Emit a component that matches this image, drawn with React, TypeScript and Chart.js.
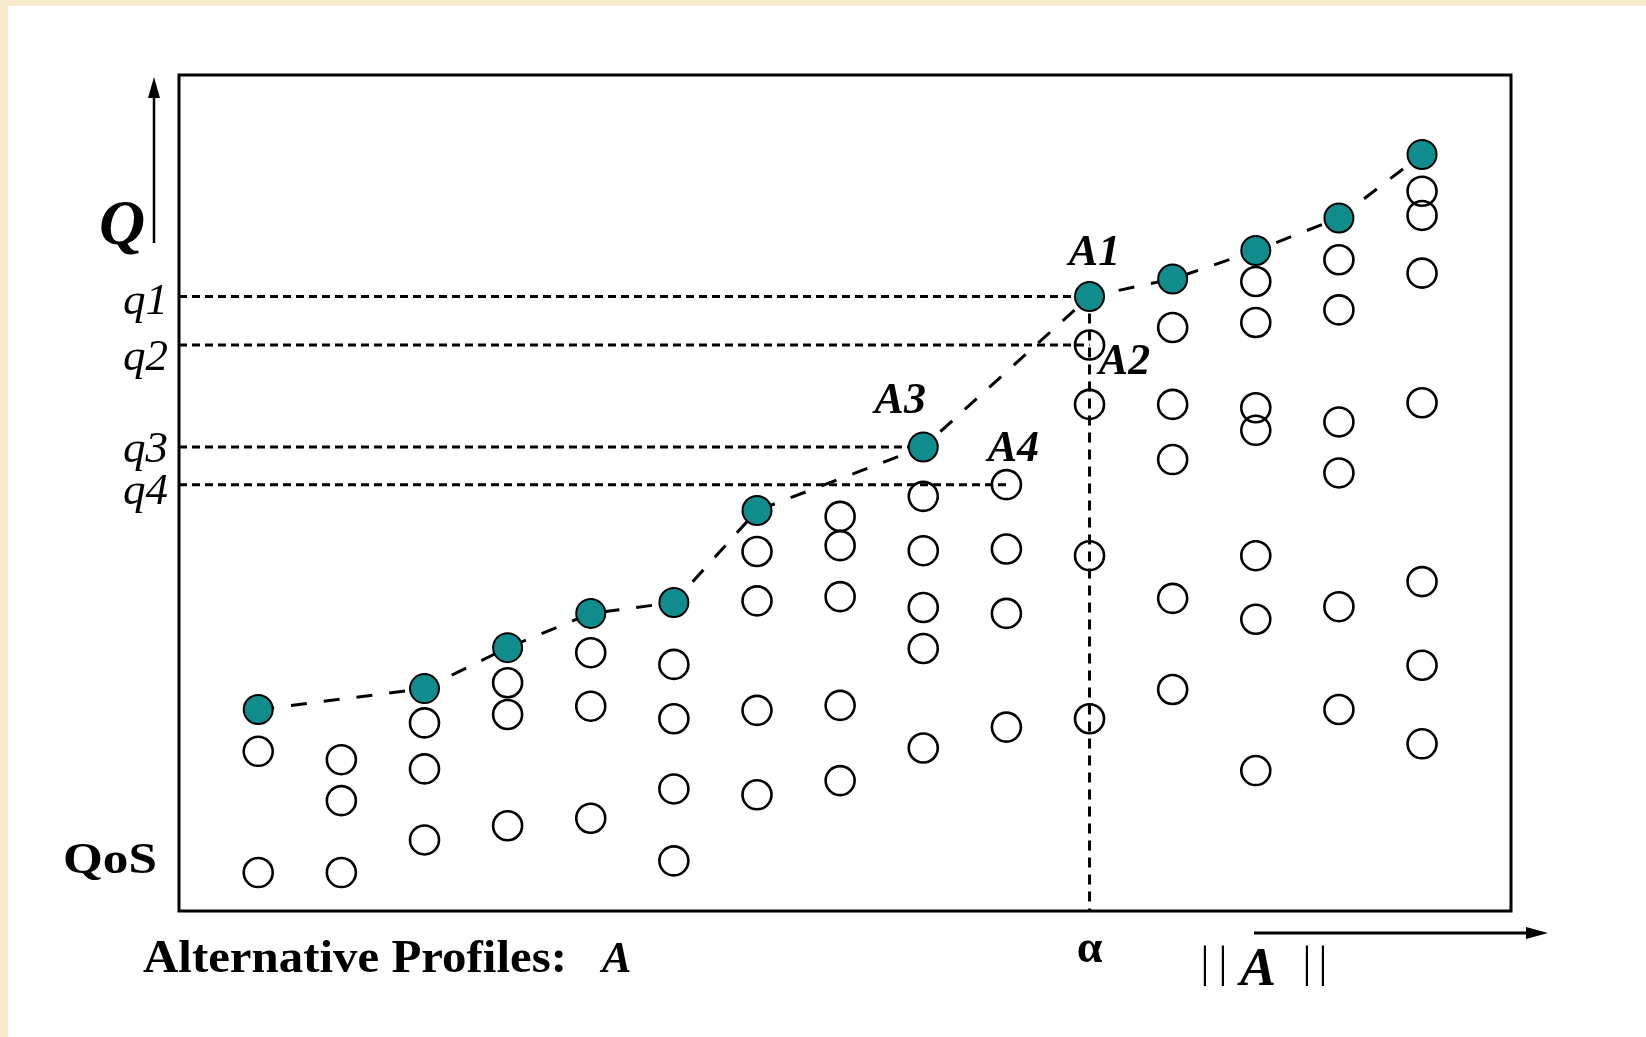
import React, { useEffect, useRef } from "react";
import { Chart, registerables } from "chart.js";

Chart.register(...registerables);

// ---- Data (QoS on a 0–100 scale, columns = alternative profile sets) ----
const columns = [1, 2, 3, 4, 5, 6, 7, 8, 9, 10, 11, 12, 13, 14, 15];

// best (selected) profile in each column; null = no selected profile drawn
const selectedQoS: (number | null)[] = [
  24.1, null, 26.6, 31.5, 35.6, 36.9, 47.9, null, 55.5, null, 73.5, 75.6, 79.0, 82.9, 90.5,
];

// other alternative profiles in each column
const alternativeQoS: number[][] = [
  [19.1, 4.6],
  [18.1, 13.2, 4.6],
  [22.5, 17.0, 8.5],
  [27.3, 23.5, 10.2],
  [30.9, 24.5, 11.1],
  [29.5, 23.0, 14.6, 6.0],
  [43.0, 37.1, 24.0, 13.9],
  [47.2, 43.7, 37.6, 24.6, 15.6],
  [49.6, 43.1, 36.3, 31.4, 19.5],
  [51.0, 43.3, 35.6, 22.0],
  [67.7, 60.6, 42.5, 23.0],
  [69.8, 60.6, 54.0, 37.4, 26.5],
  [75.3, 70.4, 60.2, 57.5, 42.5, 34.9, 16.8],
  [77.9, 71.9, 58.5, 52.4, 36.4, 24.1],
  [86.1, 83.2, 76.3, 60.8, 39.4, 29.4, 20.0],
];

const qLabels = ["q1", "q2", "q3", "q4"];
const profileLabels = ["A1", "A2", "A3", "A4"];
const profileColumns = [11, 11, 9, 10];
const profileQoS = [
  selectedQoS[10] as number, // A1
  alternativeQoS[10][0], // A2
  selectedQoS[8] as number, // A3
  alternativeQoS[9][0], // A4
];
const alphaColumn = 11;

const X_MIN = 0.047;
const X_MAX = 16.07;

// ---- styling / layout ----
const TEAL = "#108c8c";
const SERIF = '"Liberation Serif", "Times New Roman", serif';
const qBaselineOffset = [17, 25, 15, 19];
const labelOffsets = [
  [5, -43],
  [35, 18],
  [-23, -45],
  [7, -35],
];

function fitText(
  ctx: CanvasRenderingContext2D,
  text: string,
  x: number,
  y: number,
  width: number,
  font: string
) {
  ctx.save();
  ctx.font = font;
  const w = ctx.measureText(text).width;
  ctx.translate(x, y);
  ctx.scale(width / w, 1);
  ctx.textAlign = "left";
  ctx.textBaseline = "alphabetic";
  ctx.fillText(text, 0, 0);
  ctx.restore();
}

const backgroundPlugin = {
  id: "paper",
  beforeDraw(chart: any) {
    const { ctx, width, height } = chart;
    ctx.save();
    ctx.fillStyle = "#ffffff";
    ctx.fillRect(0, 0, width, height);
    ctx.fillStyle = "#f8eacd";
    ctx.fillRect(0, 0, width, 6);
    ctx.fillRect(0, 0, 8, height);
    ctx.restore();
  },
};

const decorPlugin = {
  id: "decor",
  afterDraw(chart: any) {
    const { ctx, chartArea } = chart;
    const xs = chart.scales.x;
    const ys = chart.scales.y;
    ctx.save();
    // frame
    ctx.strokeStyle = "#000";
    ctx.lineWidth = 3;
    ctx.setLineDash([]);
    ctx.strokeRect(
      chartArea.left,
      chartArea.top,
      chartArea.right - chartArea.left,
      chartArea.bottom - chartArea.top
    );

    ctx.fillStyle = "#000";
    // q labels
    ctx.font = `italic 45px ${SERIF}`;
    ctx.textAlign = "right";
    ctx.textBaseline = "alphabetic";
    qLabels.forEach((t, i) => {
      const y = ys.getPixelForValue(profileQoS[i]);
      ctx.fillText(t, chartArea.left - 11, y + qBaselineOffset[i]);
    });

    // A labels
    ctx.font = `bold italic 44px ${SERIF}`;
    ctx.textAlign = "center";
    ctx.textBaseline = "middle";
    profileLabels.forEach((t, i) => {
      const px = xs.getPixelForValue(profileColumns[i]);
      const py = ys.getPixelForValue(profileQoS[i]);
      ctx.fillText(t, px + labelOffsets[i][0], py + labelOffsets[i][1]);
    });

    // Q with up arrow
    ctx.textAlign = "center";
    ctx.textBaseline = "alphabetic";
    ctx.font = `bold italic 64px ${SERIF}`;
    ctx.fillText("Q", 122, 244);
    ctx.lineWidth = 2.5;
    ctx.beginPath();
    ctx.moveTo(154, 243);
    ctx.lineTo(154, 92);
    ctx.stroke();
    ctx.beginPath();
    ctx.moveTo(154, 77);
    ctx.lineTo(160, 98);
    ctx.lineTo(148, 98);
    ctx.closePath();
    ctx.fill();

    // QoS
    fitText(ctx, "QoS", 63, 873, 94, `bold 45px ${SERIF}`);

    // Alternative Profiles: A
    fitText(ctx, "Alternative Profiles:", 143, 972, 424, `bold 47px ${SERIF}`);
    ctx.font = `bold italic 44px ${SERIF}`;
    ctx.textAlign = "left";
    ctx.fillText("A", 602, 972);

    // alpha
    const ax = xs.getPixelForValue(alphaColumn);
    ctx.font = `bold 46px ${SERIF}`;
    ctx.textAlign = "center";
    ctx.fillText("\u03b1", ax, 962);

    // || A ||
    ctx.font = `44px ${SERIF}`;
    ["|", "|"].forEach((b, i) => ctx.fillText(b, 1205 + i * 18, 977));
    ["|", "|"].forEach((b, i) => ctx.fillText(b, 1307 + i * 16, 977));
    ctx.font = `bold italic 54px ${SERIF}`;
    ctx.fillText("A", 1258, 985);

    // bottom arrow
    ctx.lineWidth = 3;
    ctx.beginPath();
    ctx.moveTo(1254, 933);
    ctx.lineTo(1532, 933);
    ctx.stroke();
    ctx.beginPath();
    ctx.moveTo(1548, 933);
    ctx.lineTo(1526, 927);
    ctx.lineTo(1526, 939);
    ctx.closePath();
    ctx.fill();
    ctx.restore();
  },
};

export default function App() {
  const ref = useRef<HTMLCanvasElement | null>(null);

  useEffect(() => {
    if (!ref.current) return;

    const selectedPoints = columns
      .map((c, i) => ({ x: c, y: selectedQoS[i] }))
      .filter((p) => p.y !== null) as { x: number; y: number }[];

    const otherPoints: { x: number; y: number }[] = [];
    columns.forEach((c, i) => alternativeQoS[i].forEach((v) => otherPoints.push({ x: c, y: v })));

    const qLineSets = profileQoS.map((q, i) => ({
      label: qLabels[i],
      data: [
        { x: X_MIN, y: q },
        { x: profileColumns[i], y: q },
      ],
      showLine: true,
      borderColor: "#000",
      borderWidth: 3,
      borderDash: [8, 5],
      pointRadius: 0,
      order: 5,
    }));

    const chart = new Chart(ref.current, {
      type: "scatter",
      data: {
        datasets: [
          {
            label: "selected",
            data: selectedPoints,
            pointRadius: 14.5,
            pointBackgroundColor: TEAL,
            pointBorderColor: "#000",
            pointBorderWidth: 2,
            showLine: false,
            order: 0,
          },
          {
            label: "alternatives",
            data: otherPoints,
            pointRadius: 14.5,
            pointBackgroundColor: "rgba(0,0,0,0)",
            pointBorderColor: "#000",
            pointBorderWidth: 2.6,
            showLine: false,
            order: 1,
          },
          {
            label: "path",
            data: selectedPoints,
            showLine: true,
            borderColor: "#000",
            borderWidth: 3,
            borderDash: [16, 17],
            pointRadius: 0,
            order: 3,
          },
          {
            label: "alpha",
            data: [
              { x: alphaColumn, y: profileQoS[0] },
              { x: alphaColumn, y: 0 },
            ],
            showLine: true,
            borderColor: "#000",
            borderWidth: 3,
            borderDash: [10, 7],
            pointRadius: 0,
            order: 4,
          },
          ...qLineSets,
        ] as any,
      },
      options: {
        responsive: false,
        animation: false,
        events: [],
        layout: { padding: { left: 179, top: 75, right: 135, bottom: 126 } },
        plugins: { legend: { display: false }, tooltip: { enabled: false } },
        scales: {
          x: { type: "linear", min: X_MIN, max: X_MAX, display: false },
          y: { type: "linear", min: 0, max: 100, display: false },
        },
      },
      plugins: [backgroundPlugin, decorPlugin],
    });
    return () => chart.destroy();
  }, []);

  return (
    <div style={{ position: "fixed", left: 0, top: 0, width: 1646, height: 1037 }}>
      <canvas ref={ref} width={1646} height={1037} style={{ display: "block" }} />
    </div>
  );
}
